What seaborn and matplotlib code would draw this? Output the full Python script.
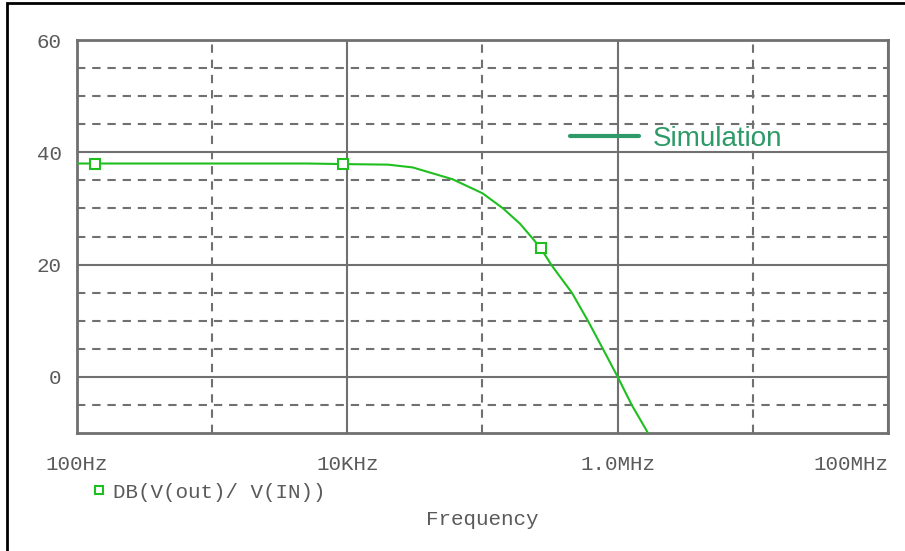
import numpy as np
import pandas as pd
import seaborn as sns
import matplotlib.pyplot as plt
from matplotlib.lines import Line2D
from matplotlib.patches import Rectangle
from matplotlib.ticker import NullFormatter

# values
freq_hz = [100, 136, 1000, 5000, 9300, 20000, 30500, 60000, 100000, 142000,
           189000, 232000, 270000, 326000, 458000, 602000, 777000, 1000000,
           1270000, 1640000, 1670000]
gain_db = [38.0, 38.0, 38.0, 38.0, 37.9, 37.8, 37.3, 35.2, 32.7, 30.0,
           27.3, 24.8, 22.9, 19.8, 15.0, 10.0, 5.0, 0.0,
           -5.0, -9.6, -10.0]
marker_idx = [1, 4, 12]

x_ticks = [1e2, 1e4, 1e6, 1e8]
x_labels = ['100Hz', '10KHz', '1.0MHz', '100MHz']
x_minor = [1e3, 1e5, 1e7]
y_ticks = [0, 20, 40, 60]
y_minor = [-5, 5, 10, 15, 25, 30, 35, 45, 50, 55]

trace_name = 'DB(V(out)/ V(IN))'
sim_label = 'Simulation'

df = pd.DataFrame({'Frequency': freq_hz, 'dB': gain_db})

sns.set_style('white')
plt.rcParams['font.family'] = ['Liberation Mono', 'DejaVu Sans Mono']

trace_green = '#1fbf1f'
sim_green = '#2e9a68'
grid_grey = '#707070'
text_grey = '#5a5a5a'

fig = plt.figure(figsize=(9.05, 5.51), dpi=100)
ax = fig.add_axes([77 / 905, 118 / 551, 811 / 905, 393 / 551])

sns.lineplot(data=df, x='Frequency', y='dB', ax=ax, color=trace_green, lw=1.5,
             marker='s', markevery=marker_idx, markersize=7,
             markerfacecolor='white', markeredgecolor=trace_green, markeredgewidth=1.5,
             zorder=5)

ax.set_xscale('log')
ax.set_xlim(1e2, 1e8)
ax.set_ylim(-10, 60)

ax.set_xticks(x_ticks)
ax.set_xticklabels(x_labels)
ax.set_xticks(x_minor, minor=True)
ax.xaxis.set_minor_formatter(NullFormatter())
ax.set_yticks(y_ticks)
ax.set_yticks(y_minor, minor=True)
ax.yaxis.set_minor_formatter(NullFormatter())
ax.tick_params(axis='both', which='major', direction='out', length=7, width=1.5,
               color=grid_grey, labelcolor=text_grey, labelsize=15)
ax.tick_params(axis='x', which='major', pad=9)
ax.tick_params(axis='y', which='major', pad=4)
ax.tick_params(which='minor', length=0)
ax.get_xticklabels()[-1].set_ha('right')

ax.grid(True, which='major', color=grid_grey, lw=1.5, ls='-')
ax.grid(True, which='minor', color=grid_grey, lw=1.5, ls=(0, (4, 3.3)))
for s in ax.spines.values():
    s.set_color(grid_grey)
    s.set_linewidth(2)

ax.set_xlabel('Frequency', color=text_grey, fontsize=15)
ax.xaxis.set_label_coords(0.5, -0.197)
ax.set_ylabel('')

# trace legend under the axis
h1 = Line2D([], [], ls='none', marker='s', markersize=6, markerfacecolor='white',
            markeredgecolor=trace_green, markeredgewidth=1.5)
leg1 = fig.legend([h1], [trace_name], loc='center left',
                  bbox_to_anchor=(80 / 905, 1 - 492 / 551), frameon=False,
                  borderpad=0, handlelength=0.8, handletextpad=0.3,
                  prop={'size': 15})
for t in leg1.get_texts():
    t.set_color(text_grey)

# simulation key
h2 = Line2D([], [], color=sim_green, lw=3)
leg2 = fig.legend([h2], [sim_label], loc='center left',
                  bbox_to_anchor=(556 / 905, 1 - 139 / 551), frameon=False,
                  borderpad=0, handlelength=2.5, handletextpad=0.5,
                  prop={'family': 'Liberation Sans', 'size': 20})
for t in leg2.get_texts():
    t.set_color(sim_green)

# black frame of the screenshot
fig.add_artist(Rectangle((7 / 905, -0.2), 2.0, 1.2 - 3 / 551, transform=fig.transFigure,
                         fill=False, edgecolor='black', lw=2))

fig.savefig('out.png', dpi=100)
